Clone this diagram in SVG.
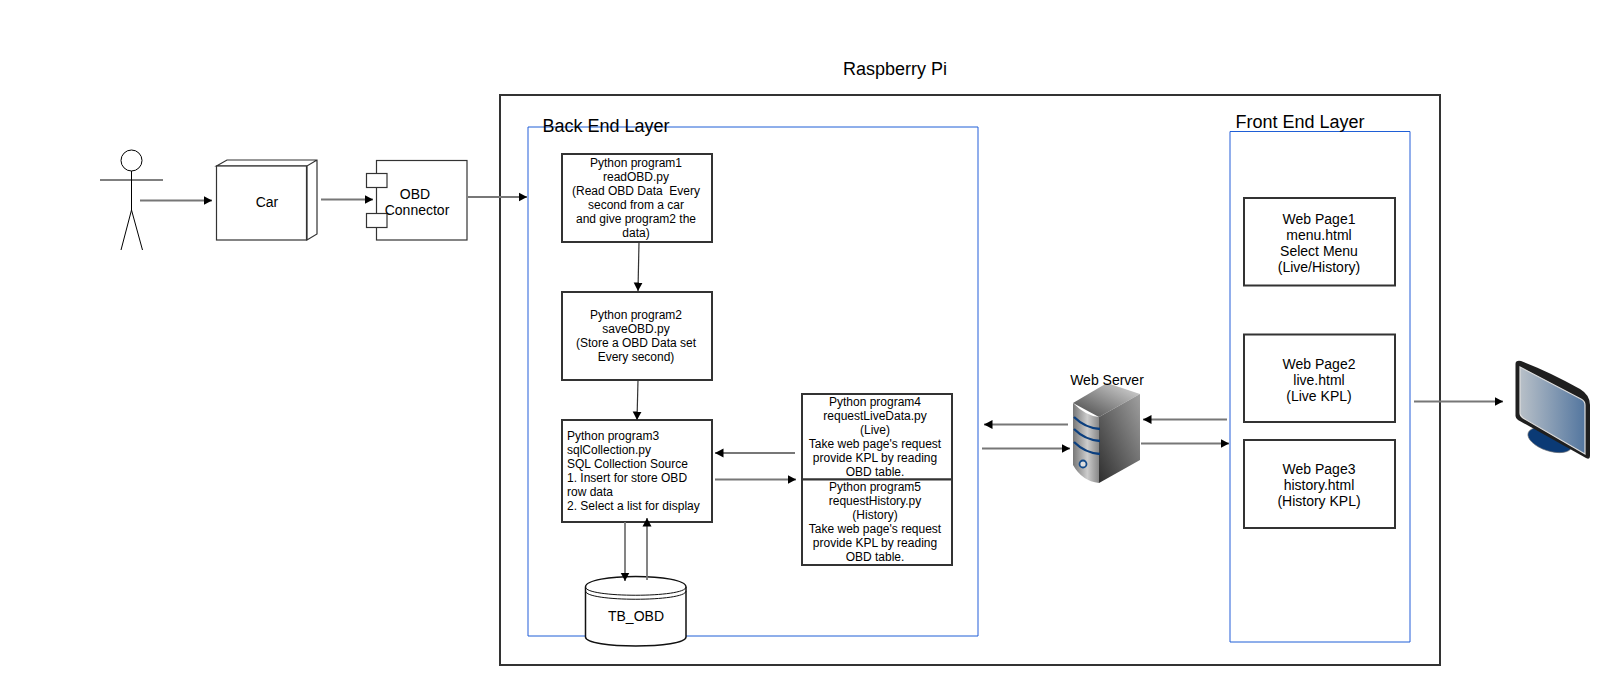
<svg xmlns="http://www.w3.org/2000/svg" width="1611" height="684" viewBox="0 0 1611 684">
<style>
text{font-family:"Liberation Sans",Arial,sans-serif;fill:#000;text-anchor:middle;white-space:pre}
.s{font-size:12px}.m{font-size:14px}.l{font-size:18px}.st{text-anchor:start}
.box{fill:#fff;stroke:#333;stroke-width:2}
.thin{fill:#fff;stroke:#333;stroke-width:1.2}
.ht{fill:none;stroke:#1f5fd6;stroke-width:1}
.vt{fill:none;stroke:#86a6ea;stroke-width:1.8}
.c{fill:none;stroke:#777;stroke-width:1.8;marker-end:url(#a)}
.k{stroke:#333;stroke-width:1.2}
</style>
<defs>
<marker id="a" markerUnits="userSpaceOnUse" markerWidth="10" markerHeight="10" refX="8.500" refY="5" orient="auto"><path d="M0,0.500L8.500,5L0,9.500Z" fill="#000"/></marker>
<linearGradient id="sf" x1="0" x2="1" y1="0" y2="0"><stop offset="0" stop-color="#777"/><stop offset=".55" stop-color="#ccc"/><stop offset="1" stop-color="#888"/></linearGradient>
<linearGradient id="ss" x1="0" x2="1" y1="1" y2="0"><stop offset="0" stop-color="#2e2e2e"/><stop offset="1" stop-color="#a0a0a0"/></linearGradient>
<linearGradient id="st" x1="0" x2="1" y1="1" y2="0"><stop offset="0" stop-color="#444"/><stop offset="1" stop-color="#ddd"/></linearGradient>
<linearGradient id="sc" x1="0" x2="1" y1="0" y2="0"><stop offset="0" stop-color="#b8c0c8"/><stop offset="1" stop-color="#53769f"/></linearGradient>
</defs>
<g id="raspberry-pi"><rect x="500" y="95" width="940" height="570" fill="#fff" stroke="#333" stroke-width="2"/><text class="l" x="895" y="75">Raspberry Pi</text></g>
<g id="back-end-layer"><path class="vt" d="M528 127V636M978 127V636"/><path class="ht" d="M528 127H978M528 636H978"/><text class="l st" x="542.500" y="132">Back End Layer</text></g>
<g id="front-end-layer"><path class="vt" d="M1230 131.500V642M1410 131.500V642"/><path class="ht" d="M1230 131.500H1410M1230 642H1410"/><text class="l st" x="1235.500" y="128">Front End Layer</text></g>
<g id="user" fill="none" stroke="#000" stroke-width="1"><circle cx="131.500" cy="160.500" r="10.500"/><path d="M131.500 171V210M100 180H163M131.500 210L121 250M131.500 210L142.500 250"/></g>
<g id="car"><path class="thin" d="M216.500 166L227 160H317V234L307 240V166ZM216.500 166H307L317 160"/><rect class="thin" x="216.500" y="166" width="90" height="74"/><text class="m" x="267" y="207">Car</text></g>
<g id="obd-connector"><rect class="thin" x="376.500" y="160.500" width="90.500" height="79.500"/><rect class="thin" x="366.500" y="173.500" width="20.500" height="14"/><rect class="thin" x="366.500" y="213.500" width="20.500" height="14"/><text class="m" x="415" y="199">OBD</text><text class="m" x="417" y="215">Connector</text></g>
<g id="program1"><rect class="box" x="562" y="154" width="150" height="88"/><text class="s" x="636" y="167">Python program1</text><text class="s" x="636" y="181">readOBD.py</text><text class="s" x="636" y="195">(Read OBD Data  Every</text><text class="s" x="636" y="209">second from a car</text><text class="s" x="636" y="223">and give program2 the</text><text class="s" x="636" y="237">data)</text></g>
<g id="program2"><rect class="box" x="562" y="292" width="150" height="88"/><text class="s" x="636" y="319">Python program2</text><text class="s" x="636" y="333">saveOBD.py</text><text class="s" x="636" y="347">(Store a OBD Data set</text><text class="s" x="636" y="361">Every second)</text></g>
<g id="program3"><rect class="box" x="562" y="420" width="150" height="102"/><text class="s st" x="567" y="440">Python program3</text><text class="s st" x="567" y="454">sqlCollection.py</text><text class="s st" x="567" y="468">SQL Collection Source</text><text class="s st" x="567" y="482">1. Insert for store OBD</text><text class="s st" x="567" y="496">row data</text><text class="s st" x="567" y="510">2. Select a list for display</text></g>
<g id="program4"><rect class="box" x="802" y="394" width="150" height="85.500"/><text class="s" x="875" y="406">Python program4</text><text class="s" x="875" y="420">requestLiveData.py</text><text class="s" x="875" y="434">(Live)</text><text class="s" x="875" y="448">Take web page's request</text><text class="s" x="875" y="462">provide KPL by reading</text><text class="s" x="875" y="476">OBD table.</text></g>
<g id="program5"><rect class="box" x="802" y="479.500" width="150" height="85.500"/><text class="s" x="875" y="491">Python program5</text><text class="s" x="875" y="505">requestHistory.py</text><text class="s" x="875" y="519">(History)</text><text class="s" x="875" y="533">Take web page's request</text><text class="s" x="875" y="547">provide KPL by reading</text><text class="s" x="875" y="561">OBD table.</text></g>
<g id="tb-obd"><path d="M585.500 587C585.500 573 686 573 686 587V637C686 649 585.500 649 585.500 637Z" fill="#fff" stroke="#111" stroke-width="1.500"/><path d="M585.500 587C585.500 598 686 598 686 587M585.500 591C585.500 602 686 602 686 591" fill="none" stroke="#111" stroke-width="1"/><text class="m" x="636" y="621">TB_OBD</text></g>
<g id="web-server"><path d="M1073 403L1107 383L1140 394L1099 417Z" fill="url(#st)"/><path d="M1073 403Q1086 416 1099 417V483Q1082 481 1073 465Z" fill="url(#sf)"/><path d="M1099 417L1140 394V460L1099 483Z" fill="url(#ss)"/><path d="M1074 417Q1085 428 1100 429M1074 429Q1085 440 1100 441M1074 442Q1085 453 1100 454" fill="none" stroke="#0b3f7f" stroke-width="2.300"/><circle cx="1083" cy="464" r="3.500" fill="#ddd" stroke="#124a8a" stroke-width="1.800"/><text class="m" x="1107" y="385">Web Server</text></g>
<g id="page1"><rect class="box" x="1244" y="198" width="151" height="87.500"/><text class="m" x="1319" y="224">Web Page1</text><text class="m" x="1319" y="240">menu.html</text><text class="m" x="1319" y="256">Select Menu</text><text class="m" x="1319" y="272">(Live/History)</text></g>
<g id="page2"><rect class="box" x="1244" y="334.500" width="151" height="87.500"/><text class="m" x="1319" y="369">Web Page2</text><text class="m" x="1319" y="385">live.html</text><text class="m" x="1319" y="401">(Live KPL)</text></g>
<g id="page3"><rect class="box" x="1244" y="440" width="151" height="88"/><text class="m" x="1319" y="474">Web Page3</text><text class="m" x="1319" y="490">history.html</text><text class="m" x="1319" y="506">(History KPL)</text></g>
<g id="monitor"><ellipse cx="1550" cy="440" rx="23" ry="11" transform="rotate(18 1550 440)" fill="#0b3a75" stroke="#777" stroke-width=".6"/><path d="M1515.500 364Q1515.500 360 1521 361Q1550 372 1580 389Q1590 395 1590 405V456Q1590 460 1586 458L1518 420Q1515.500 418 1515.500 416Z" fill="#1f1f1f"/><path d="M1520 367L1581 399Q1585 401 1585 405V454L1523 418Q1520 416 1520 413Z" fill="url(#sc)" stroke="#ddd" stroke-width="1.200"/></g>
<g id="connectors">
<path class="c" d="M140 200.500H212"/><path class="c" d="M321 199.500H373"/><path class="c" d="M468 197H527"/>
<path class="c k" d="M639 242L638 291"/><path class="c k" d="M638 380L637 420"/>
<path class="c" d="M795 453H715"/><path class="c" d="M715 479.500H796"/>
<path class="c" d="M625 522V581"/><path class="c" d="M647 580V518"/>
<path class="c" d="M1068 424.500H984"/><path class="c" d="M982 448.500H1070"/><path class="c" d="M1227 419.500H1143"/><path class="c" d="M1141 443.500H1229"/><path class="c" d="M1414 401.500H1503"/>
</g>
</svg>
